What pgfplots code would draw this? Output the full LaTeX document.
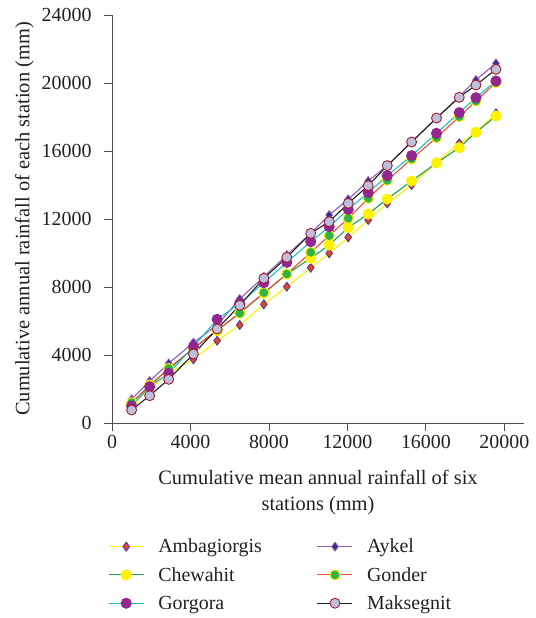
\documentclass[border=0pt]{standalone}
\usepackage{pgfplots}
\pgfplotsset{compat=1.18}
\usepackage{pgfplotstable}
\usepackage{fontspec}
\setmainfont{Liberation Serif}
\definecolor{txt}{HTML}{231F20}
\definecolor{axc}{HTML}{4D4D4D}
\definecolor{ambL}{HTML}{FFF200}
\definecolor{ambF}{HTML}{E8412C}
\definecolor{ambD}{HTML}{3B3B9E}
\definecolor{aykL}{HTML}{8E5BB5}
\definecolor{aykF}{HTML}{2E3192}
\definecolor{aykD}{HTML}{B05CB0}
\definecolor{cheL}{HTML}{1DA04A}
\definecolor{cheF}{HTML}{FFF200}
\definecolor{gonL}{HTML}{F04E30}
\definecolor{gonF}{HTML}{2DB34A}
\definecolor{gonD}{HTML}{FFF200}
\definecolor{gorL}{HTML}{1BC1C1}
\definecolor{gorF}{HTML}{92278F}
\definecolor{makL}{HTML}{231F20}
\definecolor{makF}{HTML}{BCC0DE}
\definecolor{makD}{HTML}{A01E2A}
\pgfplotstableread{
x amb ayk che gon gor mak
1000 1059 1392 1157 1196 1000 765
1920 2039 2470 2235 2176 2137 1606
2890 2922 3510 3157 3216 2922 2569
4150 3745 4725 4392 4392 4490 4059
5360 4843 5765 5431 5470 6098 5529
6510 5765 7294 6490 6451 7039 6921
7740 6980 8607 7627 7666 8254 8509
8910 8019 9882 8764 8764 9451 9744
10130 9137 11156 9686 10038 10666 11156
11070 9980 12235 10470 11019 11548 11842
12040 10921 13156 11490 12039 12568 12920
13060 11940 14235 12294 13215 13548 13960
14030 12920 15137 13176 14274 14547 15137
15270 14000 16528 14235 15529 15724 16528
16540 15333 17940 15294 16785 17040 17940
17700 16450 19200 16195 18019 18254 19156
18550 17099 20176 17099 18940 19136 19880
19570 18215 21157 18058 20020 20118 20804
}\data
\begin{document}
\begin{tikzpicture}
\useasboundingbox (0,0) rectangle (536bp,618bp);
\begin{axis}[
  at={(112bp,195bp)}, anchor=south west,
  width=412bp, height=408bp, scale only axis,
  xmin=0, xmax=21000, ymin=0, ymax=24000,
  xtick={0,4000,...,20000}, ytick={0,4000,...,24000},
  axis lines*=left, axis line style={-, axc, line width=0.9pt},
  tick align=outside, major tick length=8bp,
  tick style={axc, line width=0.9pt},
  /pgf/number format/.cd, 1000 sep={}, assume math mode=true, /pgfplots/.cd,
  scaled ticks=false,
  every tick label/.append style={font=\fontsize{20}{20}\selectfont, text=txt},
  yticklabel style={xshift=-9bp},
  xticklabel style={yshift=-1bp},
  label style={font=\fontsize{20.5}{26}\selectfont, text=txt},
  xlabel={Cumulative mean annual rainfall of six\\stations (mm)},
  xlabel style={align=center, yshift=-14bp},
  ylabel={Cumulative annual rainfall of each station (mm)},
  ylabel style={yshift=1bp},
  legend columns=2,
  legend style={at={(-0.017,-0.274)}, anchor=north west, draw=none, fill=none,
    font=\fontsize{20}{20}\selectfont, text=txt,
    row sep=9bp,
    /tikz/every odd column/.append style={column sep=12bp},
    /tikz/every even column/.append style={column sep=53bp}},
  legend cell align=left,
  legend image code/.code={\draw[mark repeat=2,mark phase=2] plot coordinates {(0bp,0bp) (17.5bp,0bp) (35bp,0bp)};},
  every axis plot/.append style={line width=1.1pt},
]
\addplot[ambL, mark=diamond*, mark size=4.5bp, mark options={fill=ambF, draw=ambD, line width=0.8pt}] table[x=x,y=amb] {\data};
\addlegendentry{Ambagiorgis}
\addplot[aykL, mark=diamond*, mark size=4.5bp, mark options={fill=aykF, draw=aykD, line width=0.8pt}] table[x=x,y=ayk] {\data};
\addlegendentry{Aykel}
\addplot[cheL, mark=*, mark size=5bp, mark options={fill=cheF, draw=cheF}] table[x=x,y=che] {\data};
\addlegendentry{Chewahit}
\addplot[gonL, mark=*, mark size=5bp, mark options={fill=gonF, draw=gonD, line width=0.9pt}] table[x=x,y=gon] {\data};
\addlegendentry{Gonder}
\addplot[gorL, mark=*, mark size=5bp, mark options={fill=gorF, draw=gorF}] table[x=x,y=gor] {\data};
\addlegendentry{Gorgora}
\addplot[makL, mark=*, mark size=5bp, mark options={fill=makF, draw=makD, line width=0.9pt}] table[x=x,y=mak] {\data};
\addlegendentry{Maksegnit}
\end{axis}
\end{tikzpicture}
\end{document}
